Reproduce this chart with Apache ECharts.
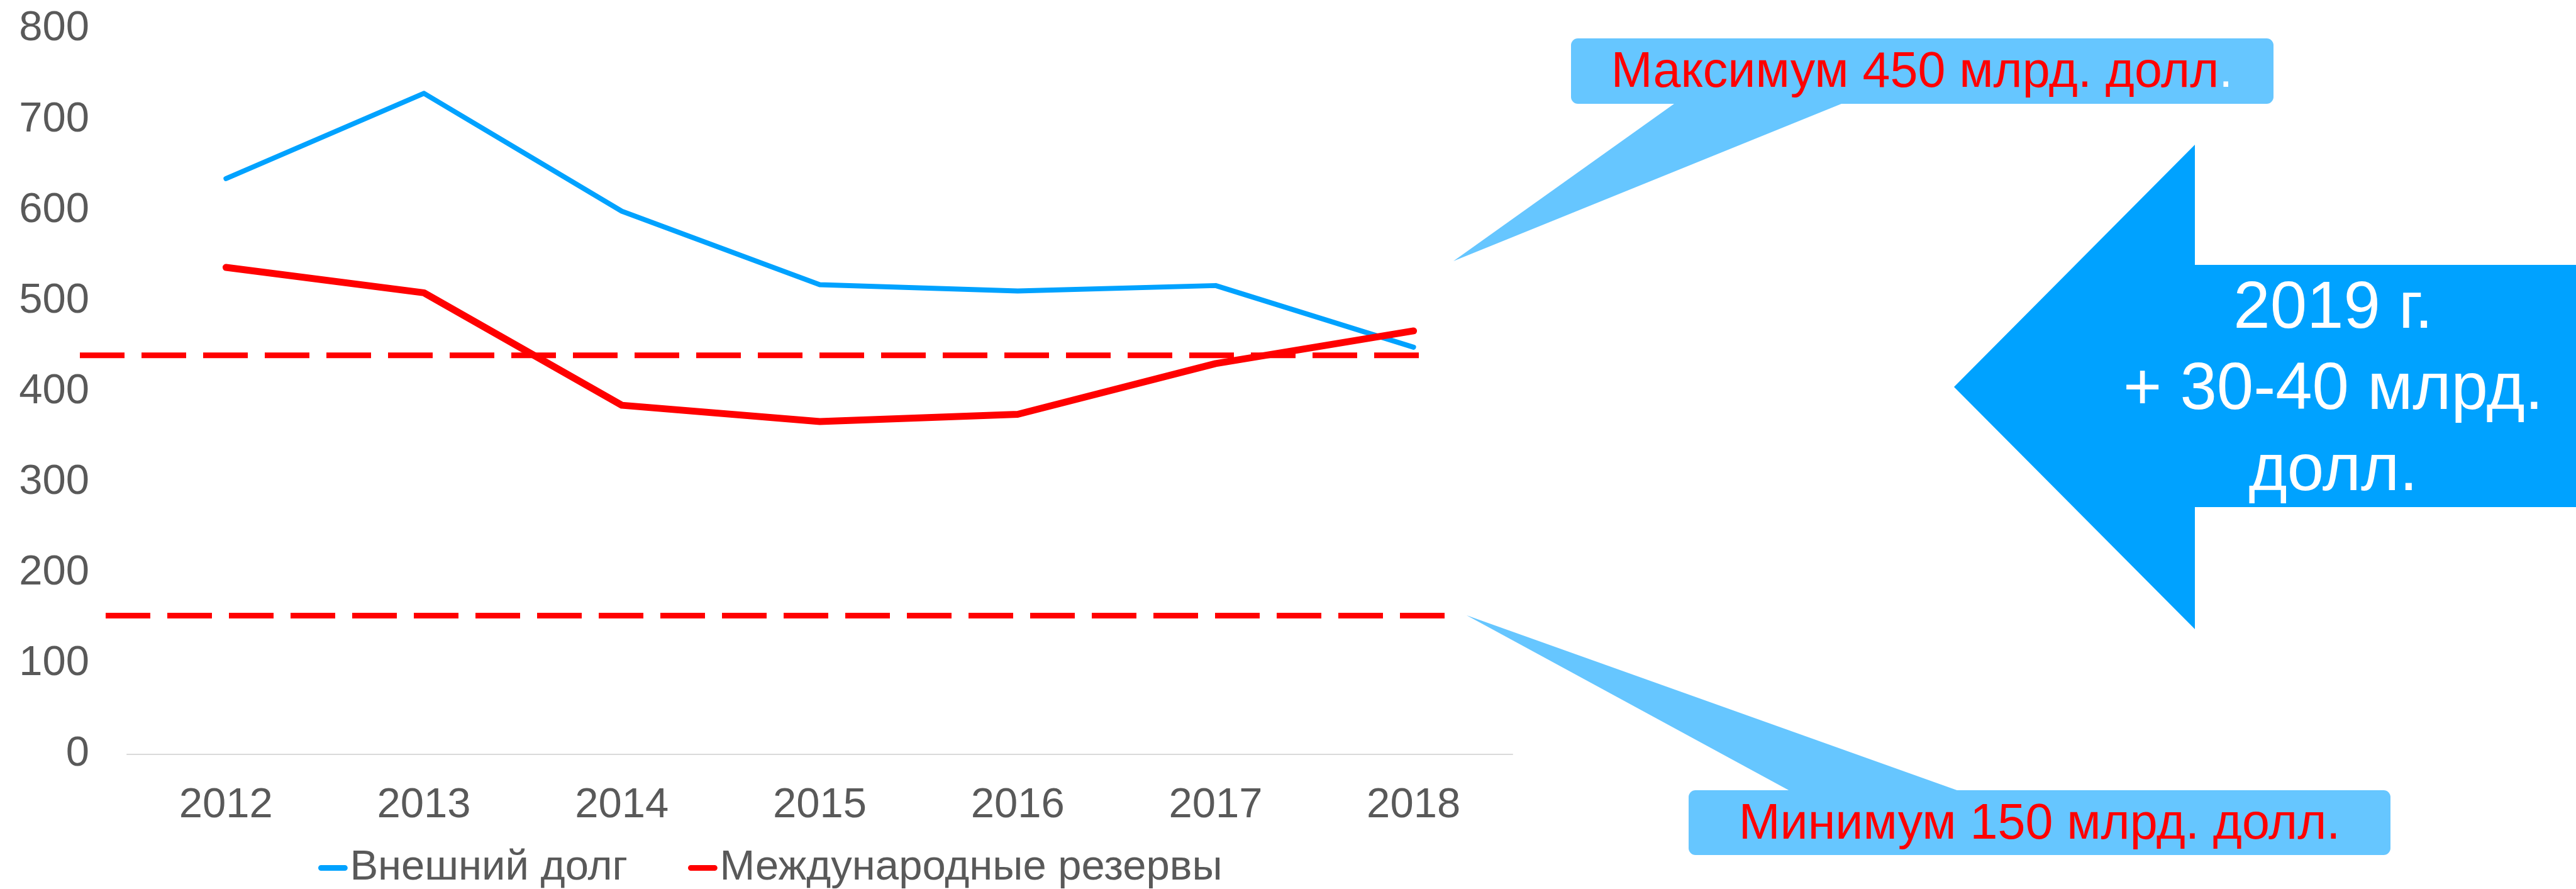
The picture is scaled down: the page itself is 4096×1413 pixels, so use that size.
<!DOCTYPE html>
<html>
<head>
<meta charset="utf-8">
<script src="https://cdn.jsdelivr.net/npm/echarts@6/dist/echarts.min.js"></script>
<style>
  html, body { margin: 0; padding: 0; background: #fff; }
  #main { width: 4096px; height: 1413px; }
</style>
</head>
<body>
<div id="main"></div>
<script>
// годы и значения, млрд. долл.
var years = ['2012', '2013', '2014', '2015', '2016', '2017', '2018'];
var externalDebt = [635, 729, 599, 518, 511, 517, 449];
var reserves = [537, 509, 385, 367, 375, 431, 467];
var yTicks = [0, 100, 200, 300, 400, 500, 600, 700, 800];
// пороги (пунктир)
var maxLevel = 440;
var minLevel = 153;

var FONT = 'Liberation Sans, Arial, sans-serif';
var GREY = '#595959';
var BLUE = '#00A2FF';
var RED = '#FF0000';
var CALLOUT = '#66C6FF';

var chart = echarts.init(document.getElementById('main'));

var option = {
  animation: false,
  backgroundColor: '#fff',
  color: [BLUE, RED],
  grid: {
    left: 202,
    right: 1691,
    top: 46,
    bottom: 214,
    outerBoundsMode: 'none'
  },
  legend: {
    data: ['Внешний долг', 'Международные резервы'],
    left: 501,
    top: 1341,
    icon: 'path://M5,0 H47 A5,5 0 0 1 47,10 H5 A5,5 0 0 1 5,0 Z',
    itemWidth: 52,
    itemHeight: 9,
    itemGap: 96,
    textStyle: { fontFamily: FONT, fontSize: 67, color: GREY, padding: [0, 0, 0, -4] }
  },
  xAxis: {
    type: 'category',
    data: years,
    axisLine: { lineStyle: { color: '#D9D9D9', width: 2 } },
    axisTick: { show: false },
    axisLabel: { fontFamily: FONT, fontSize: 67, color: GREY, margin: 48 }
  },
  yAxis: {
    type: 'value',
    min: yTicks[0],
    max: yTicks[yTicks.length - 1],
    interval: 100,
    axisLine: { show: false },
    axisTick: { show: false },
    splitLine: { show: false },
    axisLabel: { fontFamily: FONT, fontSize: 67, color: GREY, margin: 60 }
  },
  series: [{
    name: 'Внешний долг',
    type: 'line',
    data: externalDebt,
    symbol: 'none',
    lineStyle: { width: 8, cap: 'round', join: 'round' }
  }, {
    name: 'Международные резервы',
    type: 'line',
    data: reserves,
    symbol: 'none',
    lineStyle: { width: 11, cap: 'round', join: 'round' }
  }]
};

chart.setOption(option);

// пунктирные пороги: высота берётся из шкалы оси Y
var yMax = chart.convertToPixel({ yAxisIndex: 0 }, maxLevel);
var yMin = chart.convertToPixel({ yAxisIndex: 0 }, minLevel);
var dash = { stroke: RED, lineWidth: 9, lineDash: [71, 27] };

chart.setOption({
  graphic: [
    { type: 'line', shape: { x1: 127, y1: yMax, x2: 2269, y2: yMax }, style: dash, z: 1 },
    { type: 'line', shape: { x1: 168, y1: yMin, x2: 2313, y2: yMin }, style: dash, z: 1 },
    // выноска "Максимум"
    {
      type: 'polygon',
      shape: { points: [[2683, 150], [2311, 415], [2965, 150]] },
      style: { fill: CALLOUT }
    },
    {
      type: 'rect',
      shape: { x: 2498, y: 61, width: 1117, height: 104, r: 11 },
      style: { fill: CALLOUT }
    },
    {
      type: 'text',
      style: {
        x: 3056, y: 116,
        text: '{r|Максимум 450 млрд. долл}{w|.}',
        align: 'center', verticalAlign: 'middle',
        rich: {
          r: { fontFamily: FONT, fontSize: 79, fill: RED },
          w: { fontFamily: FONT, fontSize: 79, fill: '#fff' }
        }
      }
    },
    // выноска "Минимум"
    {
      type: 'polygon',
      shape: { points: [[2870, 1270], [2332, 978], [3151, 1270]] },
      style: { fill: CALLOUT }
    },
    {
      type: 'rect',
      shape: { x: 2685, y: 1256, width: 1116, height: 103, r: 11 },
      style: { fill: CALLOUT }
    },
    {
      type: 'text',
      style: {
        x: 3243, y: 1311,
        text: 'Минимум 150 млрд. долл.',
        align: 'center', verticalAlign: 'middle',
        fontFamily: FONT, fontSize: 79, fill: RED
      }
    },
    // стрелка 2019
    {
      type: 'polygon',
      shape: { points: [[3107, 615], [3490, 230], [3490, 421], [4096, 421], [4096, 806], [3490, 806], [3490, 1000]] },
      style: { fill: BLUE }
    },
    {
      type: 'text',
      style: {
        x: 3710, y: 621,
        text: '2019 г.\n+ 30-40 млрд.\nдолл.',
        align: 'center', verticalAlign: 'middle',
        fontFamily: FONT, fontSize: 105, lineHeight: 129, fill: '#fff'
      }
    }
  ]
});
</script>
</body>
</html>
